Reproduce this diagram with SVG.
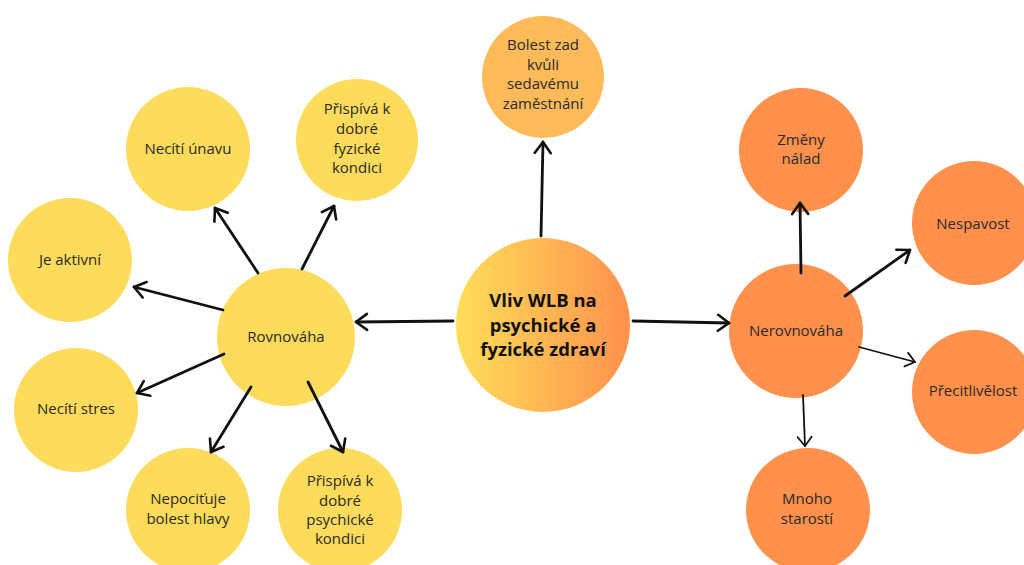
<svg xmlns="http://www.w3.org/2000/svg" width="1024" height="565" viewBox="0 0 1024 565">
<style>
.y{fill:#FDDB5B}
.o{fill:#FF914D}
.t{font-family:"Open Sans","Liberation Sans",sans-serif;font-size:15px;fill:#2a2a2a;text-anchor:middle;dominant-baseline:central}
.b{font-family:"Open Sans","Liberation Sans",sans-serif;font-size:18.5px;font-weight:bold;fill:#111;text-anchor:middle;dominant-baseline:central}
.c{stroke:#111;fill:none;stroke-linecap:round;stroke-linejoin:round}
.w3{stroke-width:2.8}
.w2{stroke-width:1.8}
</style>
<defs>
<linearGradient id="g" x1="0" y1="0" x2="1" y2="0">
<stop offset="0" stop-color="#FFDE59"/>
<stop offset="1" stop-color="#FF914D"/>
</linearGradient>
<marker id="a" viewBox="-14 -10 16 20" refX="0" refY="0" markerWidth="16" markerHeight="20" markerUnits="userSpaceOnUse" orient="auto">
<path d="M-11,-8 L0,0 L-11,8" fill="none" stroke="#111" stroke-width="2.6" stroke-linecap="round" stroke-linejoin="round"/>
</marker>
<marker id="a2" viewBox="-14 -10 16 20" refX="0" refY="0" markerWidth="16" markerHeight="20" markerUnits="userSpaceOnUse" orient="auto">
<path d="M-9,-7 L0,0 L-9,7" fill="none" stroke="#111" stroke-width="1.8" stroke-linecap="round" stroke-linejoin="round"/>
</marker>
</defs>
<rect width="1024" height="565" fill="#fff"/>

<g id="n-center"><circle cx="543" cy="325" r="87" fill="url(#g)"/>
<text class="b" x="543" y="299">Vliv WLB na</text>
<text class="b" x="543" y="324">psychické a</text>
<text class="b" x="543" y="348">fyzické zdraví</text></g>

<g id="n-bolestzad"><circle cx="543" cy="77" r="61" fill="#FFBB59"/>
<text class="t" x="543" y="44">Bolest zad</text>
<text class="t" x="543" y="64">kvůli</text>
<text class="t" x="543" y="83">sedavému</text>
<text class="t" x="543" y="103">zaměstnání</text></g>

<g id="n-rovnovaha"><circle class="y" cx="286" cy="337" r="69"/>
<text class="t" x="286" y="336">Rovnováha</text></g>

<g id="n-unava"><circle class="y" cx="188" cy="149" r="62"/>
<text class="t" x="188" y="148">Necítí únavu</text></g>

<g id="n-fyz"><circle class="y" cx="357" cy="140" r="61"/>
<text class="t" x="357" y="108">Přispívá k</text>
<text class="t" x="357" y="128">dobré</text>
<text class="t" x="357" y="148">fyzické</text>
<text class="t" x="357" y="167">kondici</text></g>

<g id="n-aktivni"><circle class="y" cx="70" cy="260" r="62"/>
<text class="t" x="70" y="259">Je aktivní</text></g>

<g id="n-stres"><circle class="y" cx="76" cy="410" r="62"/>
<text class="t" x="76" y="408">Necítí stres</text></g>

<g id="n-hlava"><circle class="y" cx="188" cy="510" r="62"/>
<text class="t" x="188" y="498">Nepociťuje</text>
<text class="t" x="188" y="518">bolest hlavy</text></g>

<g id="n-psych"><circle class="y" cx="340" cy="510" r="62"/>
<text class="t" x="340" y="480">Přispívá k</text>
<text class="t" x="340" y="500">dobré</text>
<text class="t" x="340" y="519">psychické</text>
<text class="t" x="340" y="538">kondici</text></g>

<g id="n-nerovnovaha"><circle class="o" cx="796" cy="331" r="67"/>
<text class="t" x="796" y="330">Nerovnováha</text></g>

<g id="n-zmeny"><circle class="o" cx="801" cy="150" r="62"/>
<text class="t" x="801" y="139">Změny</text>
<text class="t" x="801" y="158">nálad</text></g>

<g id="n-nespavost"><circle class="o" cx="974" cy="223" r="62"/>
<text class="t" x="973" y="223">Nespavost</text></g>

<g id="n-precitlivelost"><circle class="o" cx="974" cy="392" r="62"/>
<text class="t" x="973" y="390">Přecitlivělost</text></g>

<g id="n-starosti"><circle class="o" cx="808" cy="510" r="62"/>
<text class="t" x="807" y="498">Mnoho</text>
<text class="t" x="807" y="518">starostí</text></g>

<g id="connectors">
<path class="c w3" d="M541,236 L543,142" marker-end="url(#a)"/>
<path class="c w3" d="M453,321 L356,322" marker-end="url(#a)"/>
<path class="c w3" d="M633,321 L729,323" marker-end="url(#a)"/>
<path class="c w3" d="M223,310 L134,287" marker-end="url(#a)"/>
<path class="c w3" d="M258,273 L215,208" marker-end="url(#a)"/>
<path class="c w3" d="M302,269 L334,206" marker-end="url(#a)"/>
<path class="c w3" d="M224,354 L137,393" marker-end="url(#a)"/>
<path class="c w3" d="M251,387 L211,452" marker-end="url(#a)"/>
<path class="c w3" d="M308,382 L343,452" marker-end="url(#a)"/>
<path class="c w3" d="M801,273 L800,203" marker-end="url(#a)"/>
<path class="c w3" d="M845,296 L910,250" marker-end="url(#a)"/>
<path class="c w2" d="M859,347 L915,362" marker-end="url(#a2)"/>
<path class="c w2" d="M803,395 L805,446" marker-end="url(#a2)"/>
</g>
</svg>
